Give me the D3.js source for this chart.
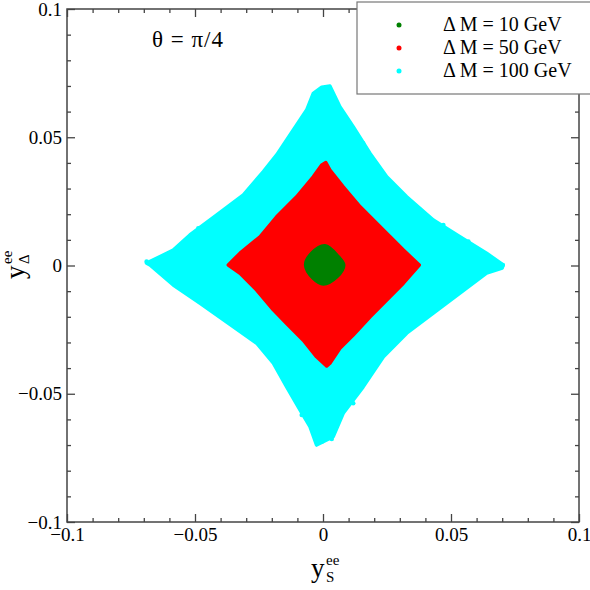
<!DOCTYPE html>
<html>
<head>
<meta charset="utf-8">
<script src="https://cdn.jsdelivr.net/npm/d3@7"></script>
<style>
  body { margin: 0; background: #fff; }
  text { font-family: "Liberation Serif", "Times New Roman", serif; fill: #000; }
</style>
</head>
<body>
<div id="chart"></div>
<script>
// axis ticks
var majorTicks = [-0.1, -0.05, 0, 0.05, 0.1];
var tickLabels = ["\u22120.1", "\u22120.05", "0", "0.05", "0.1"];
var minorTicks = [-0.09, -0.08, -0.07, -0.06, -0.04, -0.03, -0.02, -0.01,
                  0.01, 0.02, 0.03, 0.04, 0.06, 0.07, 0.08, 0.09];

var seriesLabels = ["\u0394 M = 10 GeV", "\u0394 M = 50 GeV", "\u0394 M = 100 GeV"];

// outer edge of each scatter cloud [y_S, y_Delta]
var cloud100 = [
  [-0.0689, 0.0009], [-0.0585, 0.0060], [-0.0520, 0.0119], [-0.0415, 0.0197],
  [-0.0311, 0.0275], [-0.0233, 0.0366], [-0.0181, 0.0431], [-0.0116, 0.0528],
  [-0.0064, 0.0606], [-0.0038, 0.0671], [-0.0005, 0.0695], [0.0027, 0.0700],
  [0.0066, 0.0619], [0.0118, 0.0541], [0.0184, 0.0437], [0.0249, 0.0346],
  [0.0327, 0.0268], [0.0431, 0.0177], [0.0535, 0.0112], [0.0639, 0.0048],
  [0.0704, 0.0002], [0.0700, -0.0010], [0.0639, -0.0030], [0.0535, -0.0108],
  [0.0431, -0.0186], [0.0327, -0.0264], [0.0236, -0.0356], [0.0157, -0.0473],
  [0.0079, -0.0576], [0.0040, -0.0667], [-0.0025, -0.0700], [-0.0051, -0.0628],
  [-0.0090, -0.0563], [-0.0142, -0.0473], [-0.0194, -0.0381], [-0.0259, -0.0303],
  [-0.0350, -0.0239], [-0.0480, -0.0147], [-0.0585, -0.0076], [-0.0676, 0.0002]
];
var stray100 = [
  [0.0702, 0.0002], [-0.0689, 0.0015], [0.0568, 0.0093], [0.0470, 0.0158],
  [0.0157, 0.0476], [0.0093, 0.0561], [-0.0487, 0.0145], [-0.0083, -0.0583],
  [0.0685, -0.0007], [-0.0005, -0.0687], [0.0034, -0.0676], [0.0118, -0.0537],
  [-0.0571, -0.0076]
];
var cloud50 = [
  [-0.0370, 0.0002], [-0.0324, 0.0048], [-0.0246, 0.0112], [-0.0181, 0.0190],
  [-0.0103, 0.0268], [-0.0038, 0.0346], [-0.0005, 0.0392], [0.0011, 0.0401],
  [0.0027, 0.0372], [0.0079, 0.0307], [0.0145, 0.0229], [0.0223, 0.0151],
  [0.0314, 0.0060], [0.0376, 0.0002], [0.0314, -0.0069], [0.0249, -0.0135],
  [0.0184, -0.0200], [0.0118, -0.0271], [0.0066, -0.0323], [0.0027, -0.0381],
  [0.0014, -0.0392], [-0.0025, -0.0356], [-0.0077, -0.0291], [-0.0142, -0.0226],
  [-0.0194, -0.0173], [-0.0259, -0.0096], [-0.0324, -0.0030]
];
var cloud10 = [
  [-0.0068, 0.0002], [-0.0044, 0.0048], [0.0008, 0.0077], [0.0060, 0.0034],
  [0.0081, 0.0002], [0.0054, -0.0044], [0.0001, -0.0072], [-0.0038, -0.0050]
];

var width = 590, height = 590;
var margin = { top: 9, right: 11, bottom: 68, left: 67 };
var innerW = width - margin.left - margin.right,
  innerH = height - margin.top - margin.bottom;

var color = d3.scaleOrdinal().domain(seriesLabels).range(["#008000", "#ff0000", "#00ffff"]);

var svg = d3.select("#chart").append("svg").attr("width", width).attr("height", height);
var g = svg.append("g").attr("transform", "translate(" + margin.left + "," + margin.top + ")");

var x = d3.scaleLinear().domain([-0.1, 0.1]).range([0, innerW]);
var y = d3.scaleLinear().domain([-0.1, 0.1]).range([innerH, 0]);

var line = d3.line()
  .x(function (d) { return x(d[0]); })
  .y(function (d) { return y(d[1]); });

function drawCloud(pts, label, curve) {
  g.append("path")
    .datum(pts)
    .attr("d", line.curve(curve))
    .attr("fill", color(label))
    .attr("stroke", color(label))
    .attr("stroke-width", 3.5)
    .attr("stroke-linejoin", "round");
}
drawCloud(cloud100, seriesLabels[2], d3.curveLinearClosed);
g.append("g").selectAll("circle").data(stray100).enter().append("circle")
  .attr("cx", function (d) { return x(d[0]); })
  .attr("cy", function (d) { return y(d[1]); })
  .attr("r", 2.3)
  .attr("fill", color(seriesLabels[2]));
drawCloud(cloud50, seriesLabels[1], d3.curveLinearClosed);
drawCloud(cloud10, seriesLabels[0], d3.curveCatmullRomClosed.alpha(0.5));

// axes, ticks pointing inward on all four sides
function styleAxis(sel) {
  sel.select(".domain").remove();
  sel.selectAll("line").attr("stroke", "#444").attr("stroke-width", 1.3);
  sel.selectAll("text").style("font-size", "19px").attr("fill", "#000");
}
var fmt = function (d) { return tickLabels[majorTicks.indexOf(d)]; };

g.append("g").attr("transform", "translate(0," + innerH + ")")
  .call(d3.axisBottom(x).tickValues(majorTicks).tickSize(-8).tickPadding(6).tickFormat(fmt)).call(styleAxis);
g.append("g").attr("transform", "translate(0," + innerH + ")")
  .call(d3.axisBottom(x).tickValues(minorTicks).tickSize(-4).tickFormat("")).call(styleAxis);
g.append("g")
  .call(d3.axisLeft(y).tickValues(majorTicks).tickSize(-8).tickPadding(5).tickFormat(fmt)).call(styleAxis);
g.append("g")
  .call(d3.axisLeft(y).tickValues(minorTicks).tickSize(-4).tickFormat("")).call(styleAxis);
g.append("g")
  .call(d3.axisTop(x).tickValues(majorTicks).tickSize(-8).tickFormat("")).call(styleAxis);
g.append("g")
  .call(d3.axisTop(x).tickValues(minorTicks).tickSize(-4).tickFormat("")).call(styleAxis);
g.append("g").attr("transform", "translate(" + innerW + ",0)")
  .call(d3.axisRight(y).tickValues(majorTicks).tickSize(-8).tickFormat("")).call(styleAxis);
g.append("g").attr("transform", "translate(" + innerW + ",0)")
  .call(d3.axisRight(y).tickValues(minorTicks).tickSize(-4).tickFormat("")).call(styleAxis);

g.append("rect")
  .attr("width", innerW)
  .attr("height", innerH)
  .attr("fill", "none")
  .attr("stroke", "#444")
  .attr("stroke-width", 1.5);

// title inside the plot
svg.append("text")
  .attr("x", 152)
  .attr("y", 47)
  .attr("textLength", 71)
  .attr("lengthAdjust", "spacing")
  .style("font-size", "23px")
  .text("\u03b8 = \u03c0/4");

// legend
var legend = svg.append("g");
legend.append("rect")
  .attr("x", 357).attr("y", 2)
  .attr("width", 250).attr("height", 92)
  .attr("fill", "#fff")
  .attr("stroke", "#777")
  .attr("stroke-width", 1.2);
seriesLabels.forEach(function (s, i) {
  legend.append("circle")
    .attr("cx", 399).attr("cy", 25 + i * 23)
    .attr("r", 2.5)
    .attr("fill", color(s));
  legend.append("text")
    .attr("x", 443).attr("y", 31 + i * 23)
    .style("font-size", "20px")
    .text(s);
});

// axis titles: y_S^ee and y_Delta^ee
var xl = svg.append("g").attr("transform", "translate(311,577)");
xl.append("text").style("font-size", "27px").text("y");
xl.append("text").attr("x", 15).attr("y", 5).style("font-size", "15px").text("S");
xl.append("text").attr("x", 15).attr("y", -12).style("font-size", "15px").text("ee");

var yl = svg.append("g").attr("transform", "translate(24,279) rotate(-90)");
yl.append("text").style("font-size", "27px").text("y");
yl.append("text").attr("x", 15).attr("y", 5).style("font-size", "15px").text("\u0394");
yl.append("text").attr("x", 15).attr("y", -12).style("font-size", "15px").text("ee");
</script>
</body>
</html>
